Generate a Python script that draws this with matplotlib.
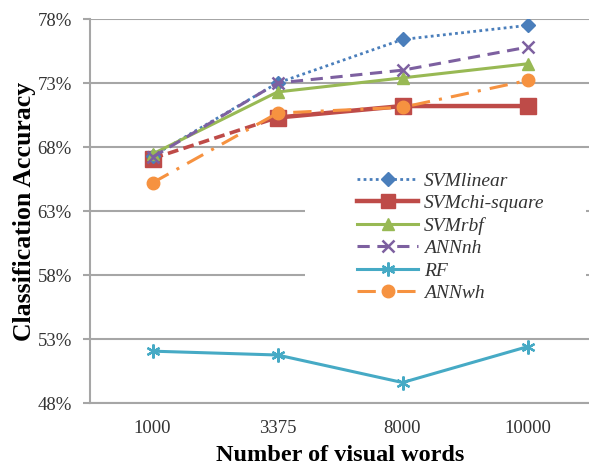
import numpy as np
import matplotlib.pyplot as plt
from matplotlib.patches import Rectangle

# visual vocabulary sizes and accuracy (%) per classifier
vocab_sizes = ['1000', '3375', '8000', '10000']
svm_linear = [67.3, 73.0, 76.4, 77.5]
svm_chi_square = [67.1, 70.3, 71.2, 71.2]
svm_rbf = [67.45, 72.3, 73.4, 74.5]
ann_nh = [67.2, 73.0, 74.0, 75.8]
rf = [52.05, 51.75, 49.6, 52.4]
ann_wh = [65.2, 70.65, 71.1, 73.2]
y_ticks = [48, 53, 58, 63, 68, 73, 78]

plt.rcParams['font.family'] = ['Liberation Serif', 'DejaVu Serif']

W, H = 589, 466
fig = plt.figure(figsize=(W / 100, H / 100), dpi=100)
ax = fig.add_axes([90 / W, 1 - 403 / H, 500 / W, (403 - 19) / H])

x = np.arange(len(vocab_sizes))
grid_c = '#a6a6a6'

ax.plot(x, svm_linear, color='#4a7ebb', lw=2.0, ls=(0, (1, 1.2)),
        marker='D', ms=7, label='SVMlinear', zorder=4)
# first chi-square segment is drawn dashed
ax.plot(x[:2], svm_chi_square[:2], color='#be4b48', lw=2.6, ls=(0, (3, 1.5)), zorder=3)
ax.plot(x[1:], svm_chi_square[1:], color='#be4b48', lw=3.2, zorder=3)
ax.plot([], [], color='#be4b48', lw=3.2, marker='s', ms=10, label='SVMchi-square')
ax.plot(x, svm_chi_square, ls='none', color='#be4b48', marker='s', ms=11, zorder=3)
ax.plot(x, svm_rbf, color='#98b954', lw=2.2, marker='^', ms=8, label='SVMrbf', zorder=5)
ax.plot(x, ann_nh, color='#7d60a0', lw=2.2, ls=(0, (4, 2.5)), marker='x', ms=9,
        mew=1.8, label='ANNnh', zorder=6)
ax.plot(x, rf, color='#46aac5', lw=2.2, marker=(6, 2, 0), ms=10, mew=1.6,
        label='RF', zorder=4)
ax.plot(x, ann_wh, color='#f69240', lw=2.2, ls=(0, (6, 3, 1, 3)), marker='o', ms=9,
        label='ANNwh', zorder=4)

ax.set_xlim(-0.5, len(vocab_sizes) - 0.5)
ax.set_ylim(48, 78)
ax.set_yticks(y_ticks)
ax.set_yticklabels([f'{v}%' for v in y_ticks])
ax.set_xticks(x)
ax.set_xticklabels(vocab_sizes)
ax.yaxis.grid(True, color=grid_c, lw=1.5)
ax.set_axisbelow(True)
for s in ['top', 'right']:
    ax.spines[s].set_visible(False)
for s in ['left', 'bottom']:
    ax.spines[s].set_color(grid_c)
    ax.spines[s].set_linewidth(1.5)
ax.tick_params(axis='y', length=5, width=1.5, color=grid_c, pad=8, labelsize=13.5,
               labelcolor='#333333')
ax.tick_params(axis='x', length=0, pad=12, labelsize=13.5, labelcolor='#333333')

ax.set_ylabel('Classification Accuracy', fontsize=18.5, fontweight='bold', labelpad=1)
ax.set_xlabel('Number of visual words', fontsize=17.5, fontweight='bold', labelpad=6)

# white legend area hides the gridlines behind it
ax.add_patch(Rectangle((305 / W, 1 - 312 / H), 281 / W, 157 / H,
                       transform=fig.transFigure, facecolor='white',
                       edgecolor='none', zorder=2))

leg = ax.legend(loc='upper left', bbox_to_anchor=(357 / W, 1 - 172 / H),
                bbox_transform=fig.transFigure, frameon=False,
                prop={'style': 'italic', 'size': 14}, handlelength=3.15,
                labelspacing=0.25, borderpad=0, handletextpad=0.3, borderaxespad=0)
leg.set_zorder(10)
for t in leg.get_texts():
    t.set_color('#333333')

fig.savefig('out.png', dpi=100)
